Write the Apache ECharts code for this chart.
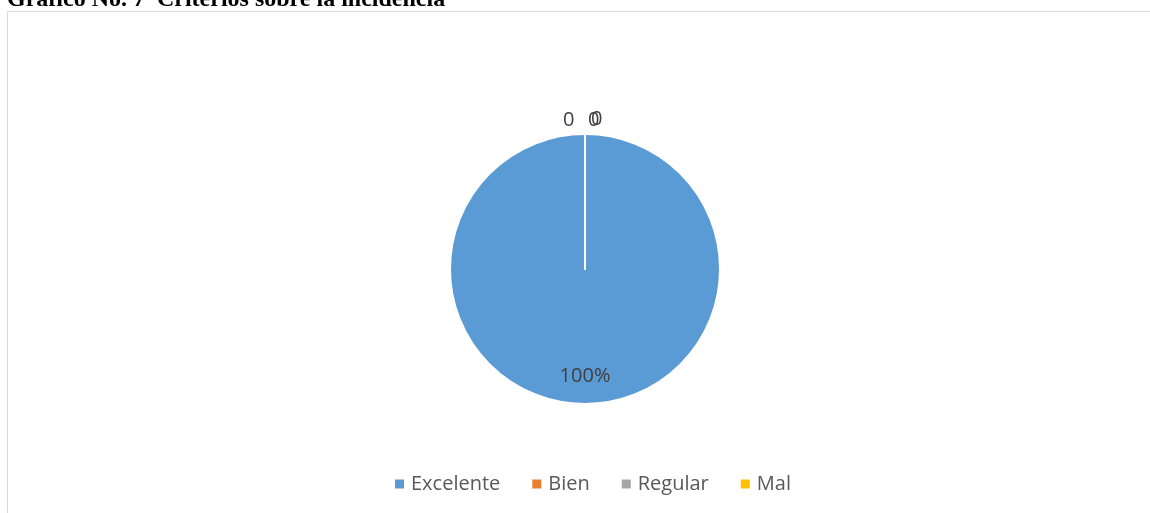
<!DOCTYPE html>
<html>
<head>
<meta charset="utf-8">
<script src="https://cdn.jsdelivr.net/npm/echarts@6/dist/echarts.min.js"></script>
<style>
  html, body { margin: 0; padding: 0; background: #fff; }
  #chart { width: 1150px; height: 513px; }
</style>
</head>
<body>
<div id="chart"></div>
<script>
// datos del grafico
const categorias = ['Excelente', 'Bien', 'Regular', 'Mal'];
const valores = [100, 0, 0, 0];
const etiquetas = ['100%', '0', '0', '0'];
const colores = ['#5b9bd5', '#ed7d31', '#a5a5a5', '#ffc000'];

// desplazamiento de las etiquetas (los ceros se solapan arriba)
const offsets = [[0, 37], [-22, 0], [3, 0], [6, -1]];

const myChart = echarts.init(document.getElementById('chart'));

const data = categorias.map((c, i) => {
  return {
    name: c,
    value: valores[i],
    label: { position: i > 0 ? 'outside' : 'inside', offset: offsets[i] }
  };
});

const option = {
  backgroundColor: '#ffffff',
  color: colores,
  animation: false,
  title: {
    text: 'Gráfico No. 7  Criterios sobre la incidencia',
    left: 2,
    top: -17,
    textStyle: {
      fontFamily: 'Liberation Serif',
      fontWeight: 'bold',
      fontSize: 24,
      color: '#000'
    }
  },
  graphic: [{
    type: 'rect',
    shape: { x: 7.5, y: 11.5, width: 1160, height: 520 },
    style: { fill: 'none', stroke: '#d9d9d9', lineWidth: 1 },
    z: -1
  }],
  legend: {
    data: categorias,
    top: 469,
    left: 388,
    itemWidth: 11,
    itemHeight: 11,
    itemGap: 30,
    icon: 'rect',
    textStyle: {
      fontFamily: 'Open Sans',
      fontSize: 20,
      color: '#595959',
      padding: [0, 0, 0, 1]
    }
  },
  series: [{
    type: 'pie',
    center: [585, 269],
    radius: 135,
    startAngle: 90,
    clockwise: true,
    avoidLabelOverlap: false,
    stillShowZeroSum: true,
    labelLayout: { hideOverlap: false },
    itemStyle: {
      borderColor: '#ffffff',
      borderWidth: 2
    },
    label: {
      show: true,
      formatter: p => etiquetas[p.dataIndex],
      fontFamily: 'Open Sans',
      fontSize: 20,
      color: '#404040',
      distanceToLabelLine: 0
    },
    labelLine: { show: false, length: 14, length2: 0 },
    emphasis: { disabled: true },
    data: data
  }]
};

myChart.setOption(option, true);
</script>
</body>
</html>
